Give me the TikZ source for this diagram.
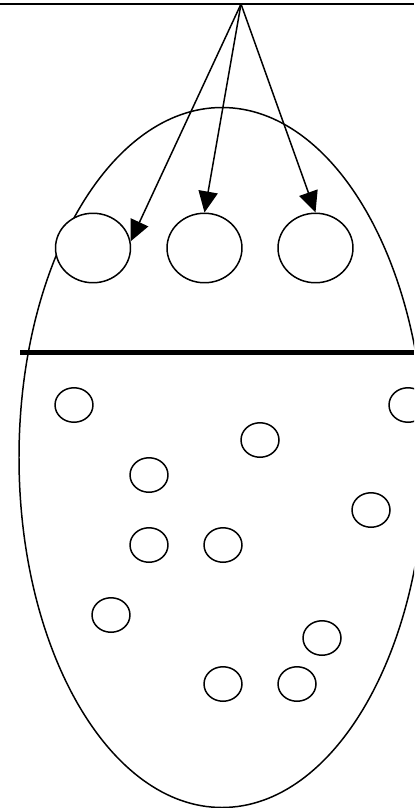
\documentclass[tikz,border=0pt]{standalone}
\usepackage{tikz}
\usetikzlibrary{arrows.meta,shapes.geometric}

\begin{document}
\begin{tikzpicture}[x=0.02cm,y=-0.02cm,>={Triangle[length=12pt,width=11pt]},
    slotnode/.style={draw,fill=white,ellipse,line width=0.85pt,minimum width=1.5cm,minimum height=1.39cm,inner sep=0pt},
    dotnode/.style={draw,fill=white,ellipse,line width=0.85pt,minimum width=0.76cm,minimum height=0.69cm,inner sep=0pt}]
        % --- 1. Frame ---
        \useasboundingbox (0,0) rectangle (414,808);
        \clip (0,0) rectangle (414,808);

        % --- 2. Define Coordinates ---
        \coordinate (Top) at (241,4);

        % --- 3. Draw the Structure ---
        \draw[line width=0.85pt] (0,4) -- (414,4);
        \draw[line width=0.85pt] (222,457.5) ellipse [x radius=203, y radius=350];
        \draw[line width=2.8pt] (20,352.5) -- (414,352.5);

        % --- 4. Upper circles ---
        \node[slotnode] (slot1) at (93,248) {};
        \node[slotnode] (slot2) at (204.5,248) {};
        \node[slotnode] (slot3) at (315.5,248) {};

        % --- 5. Arrows ---
        \draw[->,line width=0.85pt] (Top) -- (slot1.10);
        \draw[->,line width=0.85pt] (Top) -- (slot2.north);
        \draw[->,line width=0.85pt] (Top) -- (slot3.north);

        % --- 6. Lower circles ---
        \node[dotnode] (dot1) at (74,405) {};
        \node[dotnode] (dot2) at (408,405) {};
        \node[dotnode] (dot3) at (260,440) {};
        \node[dotnode] (dot4) at (149,475) {};
        \node[dotnode] (dot5) at (371,510) {};
        \node[dotnode] (dot6) at (149,545) {};
        \node[dotnode] (dot7) at (223,545) {};
        \node[dotnode] (dot8) at (111,615) {};
        \node[dotnode] (dot9) at (322,638) {};
        \node[dotnode] (dot10) at (223,684) {};
        \node[dotnode] (dot11) at (297,684) {};
    \end{tikzpicture}
\end{document}
